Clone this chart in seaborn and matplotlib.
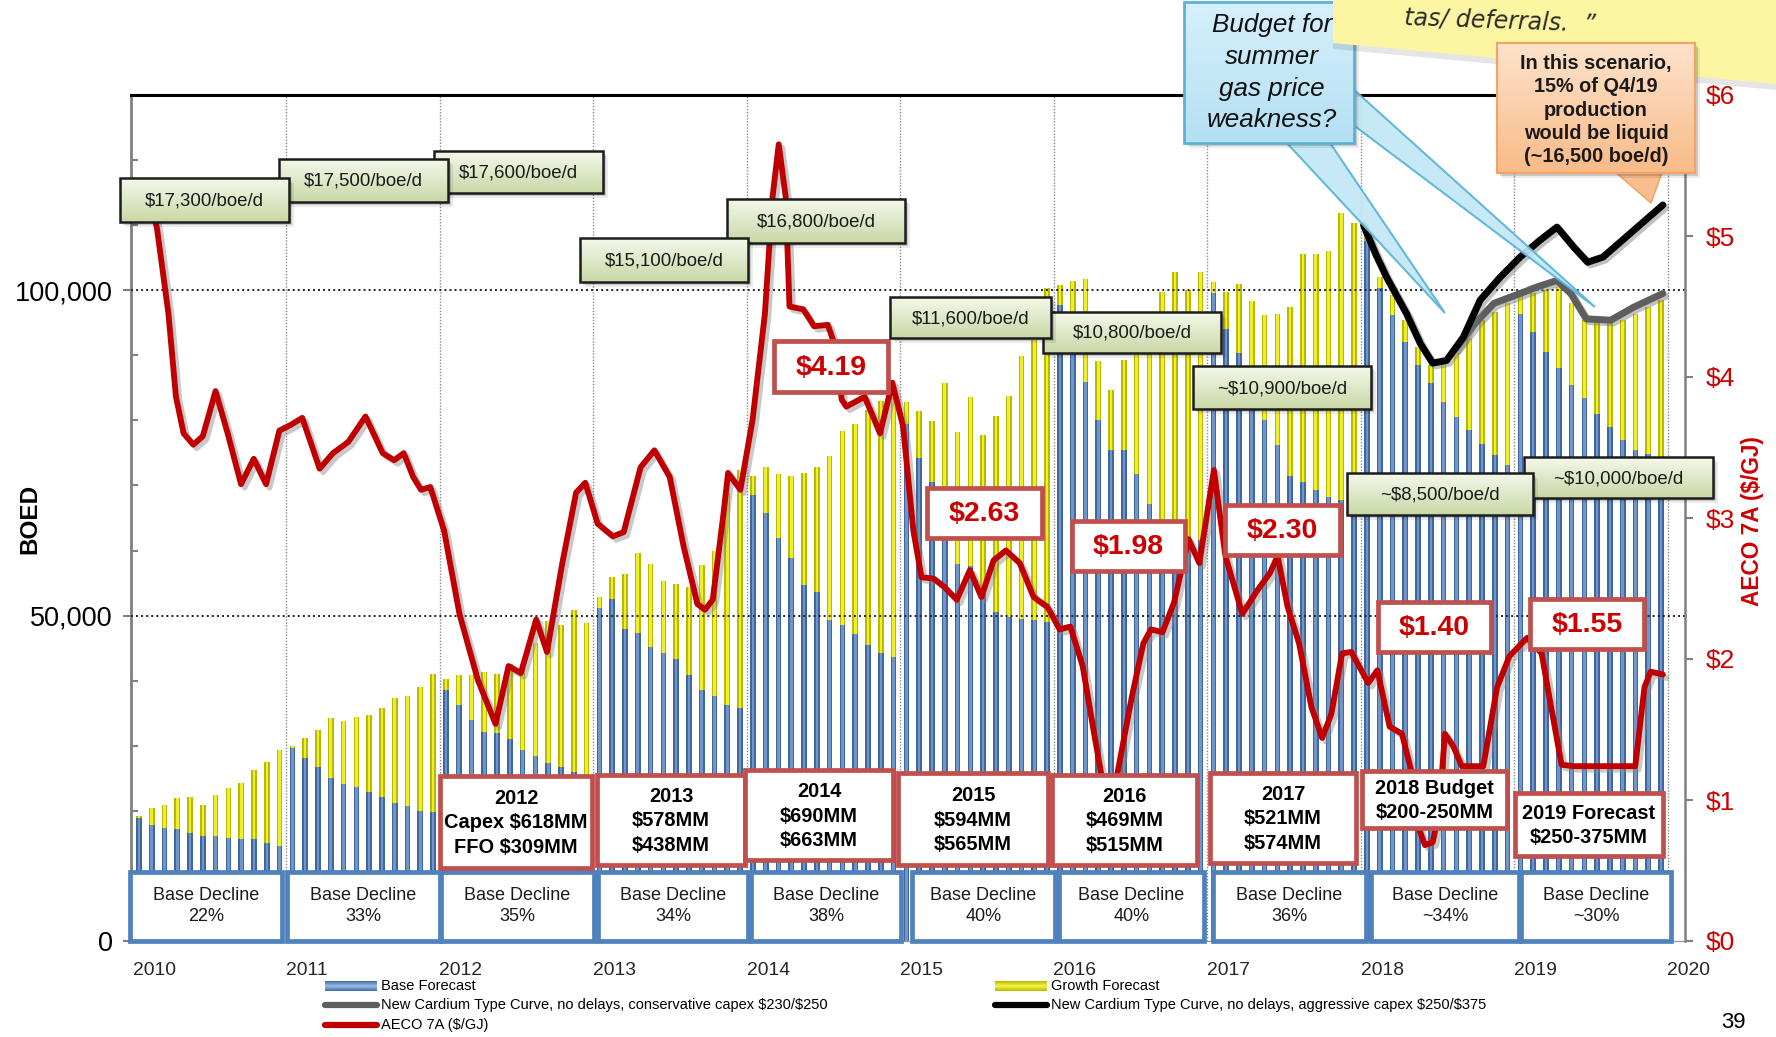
import numpy as np
import matplotlib
matplotlib.use("Agg")
import matplotlib.pyplot as plt
import seaborn as sns
from matplotlib import font_manager
from matplotlib.patches import Rectangle, Polygon
from matplotlib.colors import LinearSegmentedColormap
import matplotlib.patheffects as pe

# ---------------- data ----------------
# Monthly production forecast, Jan 2010 .. Dec 2019 (thousand BOE/d)
base_forecast_k = [
    18.9, 17.8, 17.4, 17.2, 16.6, 16.2, 16.1, 15.8, 15.6, 15.6, 15.1, 14.6,   # 2010
    29.6, 28.1, 26.8, 25.1, 24.2, 23.7, 22.9, 22.1, 21.2, 20.7, 20.0, 19.8,   # 2011
    38.5, 36.3, 34.0, 32.1, 31.9, 31.1, 29.4, 28.4, 27.3, 26.7, 26.0, 25.3,   # 2012
    51.2, 52.6, 48.0, 47.4, 45.2, 44.3, 43.4, 40.9, 38.5, 37.7, 36.2, 35.8,   # 2013
    68.5, 65.8, 62.0, 58.9, 54.7, 53.7, 49.4, 48.5, 47.1, 45.5, 44.3, 43.7,   # 2014
    79.5, 74.2, 70.5, 64.0, 58.0, 57.6, 53.5, 50.6, 49.8, 49.5, 49.3, 49.0,   # 2015
    97.7, 94.0, 85.9, 80.0, 75.5, 75.4, 71.8, 67.1, 64.5, 63.0, 62.1, 61.6,   # 2016
    99.5, 94.1, 90.4, 86.0, 80.0, 76.2, 71.5, 70.5, 69.3, 68.2, 67.7, 67.0,   # 2017
    107.5, 100.3, 96.2, 92.1, 88.5, 85.7, 82.8, 80.5, 78.5, 76.4, 74.7, 73.1,  # 2018
    96.4, 93.6, 90.5, 88.0, 85.4, 83.4, 81.0, 79.0, 77.0, 75.4, 74.9, 74.4,   # 2019
]
total_forecast_k = [
    19.2, 20.4, 20.9, 21.9, 22.2, 20.9, 22.5, 23.5, 24.3, 26.2, 27.5, 29.4,
    30.0, 31.2, 32.4, 34.2, 33.8, 34.4, 34.7, 35.8, 37.3, 37.7, 39.0, 41.1,
    40.3, 40.8, 40.9, 41.3, 41.1, 42.6, 42.6, 45.8, 49.2, 48.5, 50.9, 48.8,
    52.9, 55.9, 56.4, 59.6, 58.0, 55.3, 54.8, 54.4, 57.8, 60.0, 68.8, 72.4,
    71.4, 72.8, 71.7, 71.5, 71.9, 72.9, 74.5, 78.4, 79.4, 81.6, 83.0, 84.2,
    82.8, 81.4, 79.9, 85.7, 78.2, 83.6, 77.7, 80.6, 83.8, 89.9, 92.3, 100.3,
    100.8, 101.4, 101.7, 89.2, 84.6, 89.3, 90.5, 91.5, 99.7, 102.8, 100.1, 102.8,
    101.3, 99.7, 100.9, 98.4, 96.2, 96.4, 97.5, 105.5, 105.6, 106.0, 111.9, 110.3,
    109.5, 102.0, 99.2, 95.4, 91.3, 88.5, 88.7, 90.3, 92.6, 95.4, 96.7, 98.0,
    99.2, 99.5, 100.0, 100.5, 98.0, 95.4, 94.9, 94.9, 95.4, 96.4, 97.4, 98.5,
]

# AECO 7A gas price ($/GJ)
aeco_year = [
    2010.12, 2010.16, 2010.234, 2010.283, 2010.333, 2010.396, 2010.458, 2010.541, 2010.62,
    2010.707, 2010.79, 2010.87, 2010.957, 2011.03, 2011.106, 2011.219, 2011.306, 2011.406,
    2011.518, 2011.63, 2011.705, 2011.767, 2011.829, 2011.88, 2011.94, 2012.03, 2012.13,
    2012.25, 2012.365, 2012.45, 2012.53, 2012.63, 2012.70, 2012.80, 2012.89, 2012.95,
    2013.03, 2013.13, 2013.20, 2013.31, 2013.40, 2013.50, 2013.59, 2013.68, 2013.73,
    2013.78, 2013.85, 2013.88, 2013.96, 2014.04, 2014.12, 2014.17, 2014.21, 2014.255,
    2014.28, 2014.37, 2014.44, 2014.53, 2014.58, 2014.62, 2014.65, 2014.77, 2014.87,
    2014.95, 2015.02, 2015.087, 2015.14, 2015.22, 2015.29, 2015.37, 2015.455, 2015.53,
    2015.61, 2015.69, 2015.78, 2015.87, 2015.96, 2016.04, 2016.11, 2016.19, 2016.26,
    2016.31, 2016.36, 2016.42, 2016.51, 2016.585, 2016.635, 2016.71, 2016.785, 2016.88,
    2016.95, 2017.045, 2017.12, 2017.23, 2017.33, 2017.41, 2017.46, 2017.525, 2017.60,
    2017.68, 2017.75, 2017.81, 2017.88, 2017.94, 2018.05, 2018.11, 2018.19, 2018.27,
    2018.33, 2018.38, 2018.42, 2018.47, 2018.51, 2018.55, 2018.605, 2018.66, 2018.80,
    2018.89, 2018.97, 2019.085, 2019.18, 2019.23, 2019.31, 2019.385, 2019.79, 2019.85,
    2019.89, 2019.97,
]
aeco_price = [
    5.25, 5.05, 4.45, 3.86, 3.60, 3.52, 3.58, 3.90, 3.60,
    3.24, 3.42, 3.24, 3.62, 3.66, 3.71, 3.35, 3.46, 3.54,
    3.72, 3.46, 3.41, 3.46, 3.29, 3.20, 3.22, 2.91, 2.32,
    1.85, 1.54, 1.95, 1.90, 2.28, 2.05, 2.68, 3.18, 3.25,
    2.96, 2.87, 2.90, 3.36, 3.48, 3.29, 2.80, 2.39, 2.35,
    2.42, 3.03, 3.32, 3.20, 3.70, 4.45, 5.28, 5.65, 5.28,
    4.50, 4.48, 4.36, 4.37, 4.21, 3.84, 3.79, 3.86, 3.60,
    3.96, 3.65, 2.91, 2.58, 2.57, 2.51, 2.42, 2.63, 2.44,
    2.70, 2.77, 2.68, 2.44, 2.37, 2.21, 2.23, 1.95, 1.50,
    1.19, 0.85, 1.21, 1.73, 2.11, 2.21, 2.19, 2.40, 2.85,
    2.68, 3.34, 2.73, 2.32, 2.49, 2.61, 2.73, 2.37, 2.11,
    1.66, 1.44, 1.61, 2.04, 2.05, 1.83, 1.92, 1.52, 1.47,
    1.21, 0.80, 0.68, 0.70, 0.90, 1.47, 1.38, 1.24, 1.24,
    1.80, 2.02, 2.15, 2.04, 1.73, 1.25, 1.24, 1.24, 1.80,
    1.91, 1.89,
]

# New Cardium type curve, aggressive capex (BOE/d, thousands)
aggressive_year = [2018.02, 2018.10, 2018.17, 2018.30, 2018.39, 2018.47, 2018.56, 2018.67,
                   2018.78, 2018.91, 2019.04, 2019.17, 2019.28, 2019.39, 2019.48, 2019.58,
                   2019.78, 2019.97]
aggressive_k = [110.0, 105.5, 102.0, 96.4, 91.8, 88.8, 89.2, 92.8,
                98.5, 102.0, 105.1, 107.7, 109.7, 106.6, 104.3, 105.1,
                109.2, 113.1]
# New Cardium type curve, conservative capex
conservative_year = [2018.62, 2018.75, 2018.87, 2019.04, 2019.15, 2019.28, 2019.37,
                     2019.47, 2019.63, 2019.78, 2019.97]
conservative_k = [91.0, 95.0, 98.0, 99.5, 100.5, 101.5, 99.5, 95.6, 95.4, 97.4, 99.5]

year_ticks = list(range(2010, 2021))
boed_ticks = [0, 50000, 100000]
price_ticks = [0, 1, 2, 3, 4, 5, 6]

cost_labels = ["$17,300/boe/d", "$17,500/boe/d", "$17,600/boe/d", "$15,100/boe/d",
               "$16,800/boe/d", "$11,600/boe/d", "$10,800/boe/d", "~$10,900/boe/d",
               "~$8,500/boe/d", "~$10,000/boe/d"]
avg_price_labels = ["$4.19", "$2.63", "$1.98", "$2.30", "$1.40", "$1.55"]
capex_labels = ["2012\nCapex $618MM\nFFO $309MM", "2013\n$578MM\n$438MM",
                "2014\n$690MM\n$663MM", "2015\n$594MM\n$565MM", "2016\n$469MM\n$515MM",
                "2017\n$521MM\n$574MM", "2018 Budget\n$200-250MM",
                "2019 Forecast\n$250-375MM"]
decline_labels = ["22%", "33%", "35%", "34%", "38%", "40%", "40%", "36%", "~34%", "~30%"]

# ---------------- style ----------------
sns.set_theme(style="white")
plt.rcParams["font.family"] = ["Liberation Sans", "DejaVu Sans"]
plt.rcParams["text.parse_math"] = False

names = {f.name for f in font_manager.fontManager.ttflist}
HAS_NARROW = "Liberation Sans Narrow" in names
NARROW = ["Liberation Sans Narrow", "DejaVu Sans"] if HAS_NARROW else ["Liberation Sans", "DejaVu Sans"]
NS = 1.0 if HAS_NARROW else 0.84

W, H = 1776, 1037
BLUE, BLUE_HI = "#3f669e", "#7096c9"
YEL, YEL_HI = "#b9b900", "#eeee2a"
RED = "#c00000"
BOX_RED = "#c0504d"
BOX_BLUE = "#4f81bd"

fig = plt.figure(figsize=(W / 100, H / 100), dpi=100)
fig.patch.set_facecolor("white")
ax = fig.add_axes([131 / W, 1 - 941 / H, (1685 - 131) / W, (941 - 95) / H])

month_pos = 2010 + (np.arange(len(total_forecast_k)) + 0.5) / 12
total = np.array(total_forecast_k) * 1000
base = np.array(base_forecast_k) * 1000

common = dict(native_scale=True, errorbar=None, saturation=1, ax=ax, linewidth=0)
sns.barplot(x=month_pos, y=total, width=0.44, color=YEL, zorder=2, **common)
sns.barplot(x=month_pos, y=total, width=0.2, color=YEL_HI, zorder=2.1, **common)
sns.barplot(x=month_pos, y=base, width=0.44, color=BLUE, zorder=2.2, **common)
sns.barplot(x=month_pos, y=base, width=0.2, color=BLUE_HI, zorder=2.3, **common)

shadow = [pe.SimpleLineShadow(offset=(2, -2), shadow_color="#777777", alpha=0.45), pe.Normal()]
sns.lineplot(x=conservative_year, y=np.array(conservative_k) * 1000, ax=ax, color="#5e5e5e",
             linewidth=5, sort=False, estimator=None, legend=False, zorder=4,
             solid_capstyle="round", solid_joinstyle="round", path_effects=shadow)
sns.lineplot(x=aggressive_year, y=np.array(aggressive_k) * 1000, ax=ax, color="black",
             linewidth=5, sort=False, estimator=None, legend=False, zorder=4.5,
             solid_capstyle="round", solid_joinstyle="round", path_effects=shadow)

XMIN, XMAX = 2010 - 1.5 / 153.5, 2010 + (1685 - 132.5) / 153.5
ax.set_xlim(XMIN, XMAX)
ax.set_ylim(0, 130000)

# grid
for yv in [50000, 100000]:
    ax.axhline(yv, color="#222222", lw=1.4, ls=(0, (1, 1.6)), zorder=3)
for yr in year_ticks[1:]:
    ax.axvline(yr, color="#8a8a8a", lw=1.0, ls=(0, (1, 1.2)), zorder=0.5)

# spines
for s in ["left", "right", "bottom"]:
    ax.spines[s].set_visible(False)
ax.spines["top"].set_color("black")
ax.spines["top"].set_linewidth(2.2)
ax.spines["left"].set_visible(True)
ax.spines["left"].set_color("#808080")
ax.spines["left"].set_linewidth(2)
ax.spines["bottom"].set_visible(True)
ax.spines["bottom"].set_color("#9a9a9a")
ax.spines["bottom"].set_linewidth(1)

ax.set_yticks(boed_ticks)
ax.set_yticklabels(["0", "50,000", "100,000"])
ax.set_yticks(np.arange(0, 130001, 10000), minor=True)
ax.tick_params(axis="y", which="major", direction="out", length=6, width=1.5, color="#808080",
               labelsize=19.5, pad=7, labelcolor="black")
ax.tick_params(axis="y", which="minor", direction="in", length=5, width=1.5, color="#808080")
ax.set_xticks(year_ticks)
ax.set_xticklabels([str(y) for y in year_ticks])
ax.tick_params(axis="x", which="major", direction="out", length=4, width=1.5, color="black",
               labelsize=16.5 * NS, pad=11)
for lab in ax.get_xticklabels():
    lab.set_ha("left")
    lab.set_fontfamily(NARROW)
ax.set_xlabel("")
ax.set_ylabel("")

# price axis
ax2 = ax.twinx()
sns.lineplot(x=aeco_year, y=aeco_price, ax=ax2, color=RED, linewidth=4.2, sort=False,
             estimator=None, legend=False, zorder=5, solid_capstyle="round",
             solid_joinstyle="round",
             path_effects=[pe.SimpleLineShadow(offset=(2.5, -2.5), shadow_color="#888888", alpha=0.45),
                           pe.Normal()])
ax2.set_ylim(0, 6)
ax2.set_xlim(XMIN, XMAX)
ax2.set_yticks(price_ticks)
ax2.set_yticklabels([f"${p}" for p in price_ticks])
ax2.tick_params(axis="y", direction="out", length=6, width=1.5, color="#808080",
                labelsize=19, pad=9, labelcolor="#d00000")
for s in ["left", "top", "bottom"]:
    ax2.spines[s].set_visible(False)
ax2.spines["right"].set_color("#808080")
ax2.spines["right"].set_linewidth(1.8)
ax2.set_ylabel("")
ax2.set_xlabel("")

# ---------------- annotation layer (figure pixels) ----------------
ov = fig.add_axes([0, 0, 1, 1], zorder=10)
ov.set_xlim(0, W)
ov.set_ylim(H, 0)
ov.axis("off")
ov.patch.set_alpha(0)
ov.set_autoscale_on(False)

Z = [20]


def nz():
    Z[0] += 1
    return Z[0]


def grad(x0, y0, x1, y1, c_top, c_bot, z):
    cmap = LinearSegmentedColormap.from_list("g", [c_top, c_bot])
    arr = np.linspace(0, 1, 64).reshape(-1, 1)
    ov.imshow(arr, cmap=cmap, extent=(x0, x1, y1, y0), aspect="auto",
              interpolation="bilinear", zorder=z)


def soft_shadow(x0, y0, x1, y1, z, off=4):
    for k, a in [(off + 2, 0.08), (off, 0.14), (off - 2, 0.18)]:
        ov.add_patch(Rectangle((x0 + k, y0 + k), x1 - x0, y1 - y0, fc="black", ec="none",
                               alpha=a, zorder=z))


def green_box(x0, y0, x1, y1, text):
    z = nz()
    soft_shadow(x0, y0, x1, y1, z, off=3)
    grad(x0, y0, x1, y1, "#f4f8ea", "#c9d8a7", z + 0.1)
    ov.add_patch(Rectangle((x0, y0), x1 - x0, y1 - y0, fill=False, ec="#1c1c1c", lw=1.8,
                           zorder=z + 0.2))
    ov.text((x0 + x1) / 2, (y0 + y1) / 2 + 1, text, ha="center", va="center", fontsize=13.4,
            color="#1a1a1a", zorder=z + 0.3)


def red_box(x0, y0, x1, y1, text, fs, color, ls=1.15):
    z = nz()
    ov.add_patch(Rectangle((x0 + 2, y0 + 2), x1 - x0, y1 - y0, fc="black", alpha=0.12,
                           ec="none", zorder=z))
    ov.add_patch(Rectangle((x0, y0), x1 - x0, y1 - y0, fc="white", ec=BOX_RED, lw=3.4,
                           zorder=z + 0.1))
    ov.text((x0 + x1) / 2, (y0 + y1) / 2 + 1, text, ha="center", va="center", fontsize=fs,
            fontweight="bold", color=color, linespacing=ls, zorder=z + 0.2)


# base decline boxes along the bottom
decline_x = [(130, 282), (287, 440), (441, 594), (598, 748), (751, 901), (912, 1055),
             (1059, 1204), (1213, 1366), (1371, 1519), (1521, 1671)]
for (x0, x1), pct in zip(decline_x, decline_labels):
    z = nz()
    ov.add_patch(Rectangle((x0, 872), x1 - x0, 941 - 872, fc="white", ec=BOX_BLUE, lw=3.4,
                           zorder=z))
    ov.text((x0 + x1) / 2, 906, "Base Decline\n" + pct, ha="center", va="center",
            fontsize=13, color="#1a1a1a", linespacing=1.3, zorder=z + 0.1)

# capex / FFO boxes
capex_boxes = [(440, 776, 592, 868), (597, 775, 745, 865), (745, 770, 893, 860),
               (898, 773, 1048, 865), (1052, 775, 1197, 865), (1210, 773, 1356, 863),
               (1362, 771, 1507, 828), (1515, 793, 1663, 856)]
for (x0, y0, x1, y1), txt in zip(capex_boxes, capex_labels):
    red_box(x0, y0, x1, y1, txt, 14.4, "black", ls=1.36)

# average price boxes
price_boxes = [(774, 341, 888, 392), (927, 488, 1042, 538), (1072, 521, 1185, 571),
               (1225, 505, 1340, 555), (1378, 602, 1491, 652), (1530, 599, 1644, 649)]
for (x0, y0, x1, y1), txt in zip(price_boxes, avg_price_labels):
    red_box(x0, y0, x1, y1, txt, 20.5, "#cc0000")

# cost per flowing barrel boxes (earlier boxes sit on top)
cost_boxes = [(120, 178, 289, 222), (279, 159, 448, 202), (434, 151, 603, 193),
              (580, 238, 748, 282), (727, 199, 905, 243), (890, 297, 1051, 338),
              (1043, 312, 1221, 353), (1193, 366, 1371, 409), (1347, 473, 1533, 515),
              (1524, 457, 1713, 498)]
for (x0, y0, x1, y1), txt in reversed(list(zip(cost_boxes, cost_labels))):
    green_box(x0, y0, x1, y1, txt)

# blue callout with two pointers
z = nz()
callout_fc = "#c3e6f5"
callout_ec = "#5ab3d6"
ov.add_patch(Polygon([(1284, 140), (1328, 140), (1445, 313)], closed=True, fc=callout_fc,
                     ec=callout_ec, lw=1.5, alpha=0.92, zorder=z))
ov.add_patch(Polygon([(1352, 88), (1352, 124), (1595, 307)], closed=True, fc=callout_fc,
                     ec=callout_ec, lw=1.5, alpha=0.92, zorder=z))
soft_shadow(1184, 2, 1354, 143, z + 0.1, off=3)
grad(1184, 2, 1354, 143, "#d6f0fb", "#b4e0f2", z + 0.2)
ov.add_patch(Rectangle((1184, 2), 170, 141, fill=False, ec=callout_ec, lw=2, zorder=z + 0.3))
for txt, yy in [("Budget for", 25), ("summer", 57), ("gas price", 89), ("weakness?", 120)]:
    ov.text(1272, yy, txt, ha="center", va="center", fontsize=18.7, style="italic",
            color="#111111", zorder=z + 0.4)

# sticky note across the top right
z = nz()
ov.add_patch(Polygon([(1333, -2), (1776, -2), (1776, 90), (1333, 49)], closed=True,
                     fc="black", alpha=0.10, ec="none", zorder=z))
ov.add_patch(Polygon([(1333, -2), (1776, -2), (1776, 84), (1333, 43)], closed=True,
                     fc="#fcf6a2", ec="none", zorder=z + 0.1))
ov.text(1500, 31, "tas/ deferrals.  \u201d", ha="center", va="baseline", fontsize=17,
        rotation=-2, style="italic", fontfamily=["DejaVu Sans"], fontweight="light",
        color="#2a2a2a", zorder=z + 0.2)

# orange scenario callout
z = nz()
ov.add_patch(Polygon([(1613, 170), (1663, 170), (1651, 203)], closed=True, fc="#f9be8e",
                     ec="#f3a66a", lw=1.2, zorder=z))
soft_shadow(1497, 43, 1695, 173, z + 0.1, off=3)
grad(1497, 43, 1695, 173, "#fde3cb", "#f9bb88", z + 0.2)
ov.add_patch(Rectangle((1497, 43), 198, 130, fill=False, ec="#f2a468", lw=1.6, zorder=z + 0.3))
ov.text(1596, 110, "In this scenario,\n15% of Q4/19\nproduction\nwould be liquid\n(~16,500 boe/d)",
        ha="center", va="center", fontsize=14.3, fontweight="bold", color="#1a1a1a",
        linespacing=1.28, zorder=z + 0.4)

# axis titles
ov.text(30, 519, "BOED", rotation=90, ha="center", va="center", fontsize=17.5,
        fontweight="bold", color="black")
ov.text(1752, 521, "AECO 7A ($/GJ)", rotation=90, ha="center", va="center", fontsize=16.3,
        fontweight="bold", color="#cc0000")


# legend
def legend_swatch_bar(x0, y, c_edge, c_mid):
    grad(x0, y - 5, x0 + 52, y, c_edge, c_mid, 30)
    grad(x0, y, x0 + 52, y + 5, c_mid, c_edge, 30)


legend_swatch_bar(325, 986, "#3f6aa6", "#9dbbe3")
legend_swatch_bar(995, 986, "#b8b800", "#f5f54a")
ov.plot([325, 377], [1004.5, 1004.5], color="#5e5e5e", lw=4.5, solid_capstyle="round", zorder=30)
ov.plot([995, 1047], [1004.5, 1004.5], color="black", lw=4.5, solid_capstyle="round", zorder=30)
ov.plot([325, 377], [1025, 1025], color=RED, lw=4.5, solid_capstyle="round", zorder=30)
leg_kw = dict(ha="left", va="center", fontsize=12.5 * NS, fontfamily=NARROW, color="black",
              zorder=31)
ov.text(381, 986, "Base Forecast", **leg_kw)
ov.text(1051, 986, "Growth Forecast", **leg_kw)
ov.text(381, 1004.5, "New Cardium Type Curve, no delays, conservative capex $230/$250", **leg_kw)
ov.text(1051, 1004.5, "New Cardium Type Curve, no delays, aggressive capex $250/$375", **leg_kw)
ov.text(381, 1025, "AECO 7A ($/GJ)", **leg_kw)

ov.text(1733, 1023, "39", ha="center", va="center", fontsize=19 * NS, fontfamily=NARROW,
        color="black")

fig.savefig("out.png", dpi=100, facecolor="white")
